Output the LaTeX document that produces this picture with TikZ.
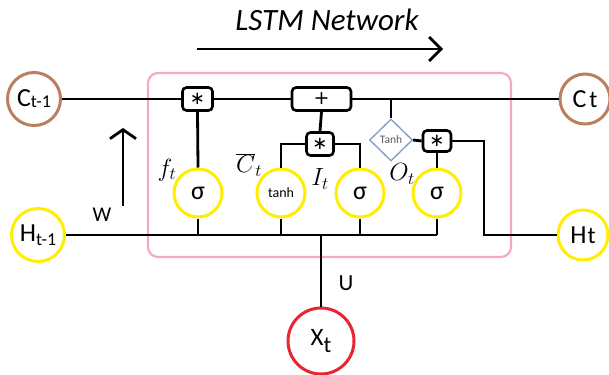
\documentclass[tikz,border=0pt]{standalone}
\usepackage{fontspec}
\setmainfont{Carlito}
\newfontfamily\djv{DejaVu Sans}
\usetikzlibrary{arrows.meta,shapes.geometric}
\definecolor{brownc}{HTML}{B98060}
\definecolor{yelc}{HTML}{FFEE00}
\definecolor{redc}{HTML}{E82530}
\definecolor{pinkc}{HTML}{F7A8C4}
\definecolor{diac}{HTML}{7F9CC8}
\begin{document}
\begin{tikzpicture}[x=1pt,y=-1pt,
  conn/.style={line width=2.8pt},
  circ/.style={circle,line width=3pt,minimum size=#1,inner sep=0pt,fill=white},
  opbox/.style={draw,rounded corners=4pt,line width=2.6pt,fill=white,minimum height=23pt,minimum width=#1,inner sep=0pt,font=\djv\fontsize{18}{18}\selectfont},
  sig/.style={circ=48pt,draw=yelc,font=\fontsize{26}{26}\selectfont},
  lbl/.style={font=\fontsize{24}{24}\selectfont},
  barb/.style={-{Straight Barb[length=#1,width=24pt,line width=2.8pt]}}
]
\useasboundingbox (0,0) rectangle (609,374);
% title
\node[font=\fontsize{31}{31}\selectfont\itshape] (title) at (327,20) {LSTM Network};
\coordinate (ta) at (197,49);
\coordinate (tb) at (443,49);
\draw[conn,barb=12pt] (ta) -- (tb);
% cell frame
\draw[pinkc,line width=2.2pt,rounded corners=10pt] (148,73) rectangle (511,257);
% outer nodes
\node[circ=53pt,draw=brownc] (cm1) at (34,99) {\fontsize{26}{26}\selectfont C\raisebox{-1pt}{\fontsize{18}{18}\selectfont t-1}};
\node[circ=50pt,draw=brownc] (ct) at (585,99) {\fontsize{26}{26}\selectfont C\hspace{3pt}{\fontsize{24}{24}\selectfont t}};
\node[circ=53pt,draw=yelc] (hm1) at (38,235) {\fontsize{26}{26}\selectfont H\raisebox{-4pt}{\fontsize{18}{18}\selectfont t-1}};
\node[circ=50pt,draw=yelc] (ht) at (583,235) {\fontsize{26}{26}\selectfont H\hspace{1pt}{\fontsize{24}{24}\selectfont t}};
\node[circ=66pt,draw=redc] (xt) at (321,341) {\fontsize{25}{25}\selectfont X\raisebox{-7pt}{\fontsize{23}{23}\selectfont t}};
% operators
\node[opbox=30pt] (mult1) at (197.5,99) {∗};
\node[opbox=59pt,font=\djv\fontsize{19}{19}\selectfont] (plus) at (321.5,99) {+};
\node[opbox=27pt] (mult2) at (320,144) {∗};
\node[opbox=28pt,minimum height=21pt] (mult3) at (437,141) {∗};
\node[diamond,draw=diac,line width=1.3pt,minimum width=43pt,minimum height=42pt,inner sep=0pt,text=black!65,font=\fontsize{11.5}{11.5}\selectfont] (dia) at (391,140) {Tanh};
% gates
\node[sig] (sf) at (198,193) {σ};
\node[sig,font=\fontsize{14}{14}\selectfont] (st) at (281,193) {tanh};
\node[sig] (sI) at (360,193) {σ};
\node[sig] (sO) at (437,193) {σ};
% labels
\node[lbl] (lf) at (167,170) {$f_t$};
\node[lbl] (lc) at (249,165) {$\overline{C}_t$};
\node[lbl] (li) at (320,179) {$I_t$};
\node[lbl] (lo) at (402,174) {$O_t$};
\node[font=\fontsize{21}{21}\selectfont] (w) at (102,215) {W};
\node[font=\fontsize{23}{23}\selectfont] (u) at (346,283) {U};
% W arrow
\coordinate (wa) at (123,206);
\coordinate (wb) at (123,128);
\draw[conn,-{Straight Barb[length=9pt,width=26pt,line width=2.8pt]}] (wa) -- (wb);
% connectors
\draw[conn] (cm1.east) -- (mult1.west);
\draw[conn] (mult1.east) -- (plus.west);
\draw[conn] (plus.east) -- (ct.west);
\draw[conn] (mult1.south) -- (sf.north);
\draw[conn] (plus.south) -- (mult2.north);
\draw[conn] (mult2.west) -| (st.north);
\draw[conn] (mult2.east) -| (sI.north);
\draw[conn] (dia.north |- plus.east) -- (dia.north);
\draw[conn] (dia.east) -- (mult3.west);
\draw[conn] (mult3.south) -- (sO.north);
\coordinate (bend) at (484,141);
\draw[conn] (mult3.east) -- (bend) |- (ht.west);
\draw[conn] (hm1.east) -- (sO.south |- hm1.east);
\draw[conn] (sf.south) -- (sf.south |- hm1.east);
\draw[conn] (st.south) -- (st.south |- hm1.east);
\draw[conn] (sI.south) -- (sI.south |- hm1.east);
\draw[conn] (sO.south) -- (sO.south |- hm1.east);
\draw[conn] (xt.north |- hm1.east) -- (xt.north);
\end{tikzpicture}
\end{document}
